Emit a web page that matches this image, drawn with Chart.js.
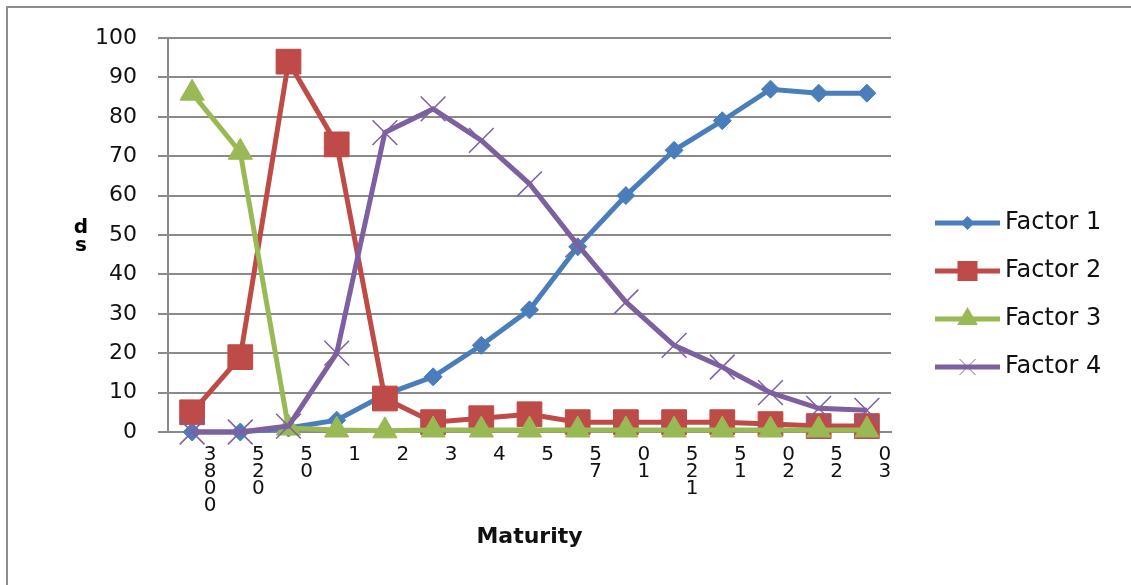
<!DOCTYPE html>
<html>
<head>
<meta charset="utf-8">
<script src="https://cdn.jsdelivr.net/npm/chart.js@4"></script>
<style>
html,body{margin:0;padding:0;background:#fff;overflow:hidden;}
canvas{display:block;}
</style>
</head>
<body>
<canvas id="c" width="1131" height="585"></canvas>
<script>
// ---- data ----
const categories = [
  ['3','8','0','0'], ['5','2','0'], ['5','0'], '1', '2', '3', '4', '5',
  ['5','7'], ['0','1'], ['5','2','1'], ['5','1'], ['0','2'], ['5','2'], ['0','3']
];
const seriesNames = ['Factor 1', 'Factor 2', 'Factor 3', 'Factor 4'];
const factor1 = [0, 0, 1, 3, 9.5, 14, 22, 31, 47, 60, 71.5, 79, 87, 86, 86];
const factor2 = [5, 19, 94, 73, 8.5, 2.5, 3.5, 4.5, 2.5, 2.5, 2.5, 2.5, 2, 1.5, 1.5];
const factor3 = [86, 71, 1, 0.5, 0.3, 0.5, 0.5, 0.5, 0.5, 0.5, 0.5, 0.5, 0.5, 0.5, 0.5];
const factor4 = [0, 0, 1.5, 20, 76, 82, 74, 63, 47.5, 33, 22, 16.5, 10, 6, 5.5];
const yTicks = [0, 10, 20, 30, 40, 50, 60, 70, 80, 90, 100];
const xTitle = 'Maturity';
const yTitle = ['d', 's'];

// ---- styles ----
const colors = ['#4A7EBB', '#BE4B48', '#98B954', '#7D60A0'];
const styles = ['rectRot', 'rect', 'triangle', 'crossRot'];
const radii = [9, 17.5, 14, 17.5];
const FONT = 'DejaVu Sans';
const legendFontSize = 24;
const legendPad = 24;
const legendBoxW = 78;

function makeIcon(color, style) {
  const c = document.createElement('canvas');
  c.width = 92; c.height = 30;
  const g = c.getContext('2d');
  g.strokeStyle = color; g.fillStyle = color;
  g.lineWidth = 5;
  g.beginPath(); g.moveTo(27, 15); g.lineTo(92, 15); g.stroke();
  const cx = 59.5, cy = 15;
  g.beginPath();
  if (style === 'rectRot') {
    const r = 7;
    g.moveTo(cx, cy - r); g.lineTo(cx + r, cy); g.lineTo(cx, cy + r); g.lineTo(cx - r, cy); g.closePath(); g.fill();
  } else if (style === 'rect') {
    g.fillRect(cx - 10, cy - 10, 20, 20);
  } else if (style === 'triangle') {
    const r = 12;
    g.moveTo(cx, cy - r); g.lineTo(cx + r * 0.866, cy + r * 0.5); g.lineTo(cx - r * 0.866, cy + r * 0.5); g.closePath(); g.fill();
  } else {
    const r = 8;
    g.lineWidth = 1;
    g.moveTo(cx - r, cy - r); g.lineTo(cx + r, cy + r); g.moveTo(cx + r, cy - r); g.lineTo(cx - r, cy + r); g.stroke();
  }
  return c;
}
const icons = colors.map((c, i) => makeIcon(c, styles[i]));

// compute legend width so the plot's right edge lands at x=891
const mctx = document.createElement('canvas').getContext('2d');
mctx.font = legendFontSize + 'px "' + FONT + '"';
const maxText = Math.max(...seriesNames.map(s => mctx.measureText(s).width));
const legendWidth = legendPad + legendBoxW + legendFontSize / 2 + maxText + 10;
const padRight = Math.max(0, 1131 - 891 - legendWidth);

const dataSeries = [factor1, factor2, factor3, factor4];
const datasets = dataSeries.map((d, i) => ({
  label: seriesNames[i],
  data: d,
  borderColor: colors[i],
  backgroundColor: colors[i],
  borderWidth: 5,
  tension: 0,
  pointStyle: styles[i],
  pointRadius: radii[i],
  pointHoverRadius: radii[i],
  pointBackgroundColor: colors[i],
  pointBorderColor: colors[i],
  pointBorderWidth: i === 3 ? 1.5 : 1,
  order: 4 - i,
  clip: false
}));

const framePlugin = {
  id: 'frame',
  beforeDraw(chart) {
    const ctx = chart.ctx;
    ctx.save();
    ctx.strokeStyle = '#8e8e8e';
    ctx.lineWidth = 2;
    ctx.beginPath();
    ctx.moveTo(7, 600); ctx.lineTo(7, 7); ctx.lineTo(1140, 7);
    ctx.stroke();
    ctx.restore();
  }
};

const yTitlePlugin = {
  id: 'yTitleStack',
  afterDraw(chart) {
    const ctx = chart.ctx;
    ctx.save();
    ctx.font = 'bold 20px "' + FONT + '"';
    ctx.fillStyle = '#000';
    ctx.textAlign = 'center';
    ctx.textBaseline = 'alphabetic';
    ctx.fillText(yTitle[0], 81, 233);
    ctx.fillText(yTitle[1], 81, 251);
    ctx.restore();
  }
};

new Chart(document.getElementById('c'), {
  type: 'line',
  data: { labels: categories, datasets },
  plugins: [framePlugin, yTitlePlugin],
  options: {
    responsive: false,
    animation: false,
    events: [],
    layout: { padding: { top: 38, left: 0, bottom: 0, right: padRight } },
    plugins: {
      tooltip: { enabled: false },
      legend: {
        position: 'right',
        align: 'start',
        title: { display: true, text: '', font: { size: 10, lineHeight: 1 }, padding: { top: 139, bottom: 0 } },
        labels: {
          usePointStyle: true,
          pointStyleWidth: legendBoxW,
          padding: legendPad,
          color: '#111',
          font: { family: FONT, size: legendFontSize },
          generateLabels(chart) {
            const items = Chart.defaults.plugins.legend.labels.generateLabels(chart);
            items.sort((a, b) => a.datasetIndex - b.datasetIndex);
            items.forEach(it => { it.pointStyle = icons[it.datasetIndex]; });
            return items;
          }
        }
      }
    },
    scales: {
      x: {
        type: 'category',
        offset: true,
        grid: { display: false, drawTicks: false },
        border: { display: true, color: '#8a8a8a', width: 2 },
        ticks: {
          autoSkip: false,
          maxRotation: 0,
          minRotation: 0,
          padding: 14,
          labelOffset: 18,
          color: '#111',
          font: { family: FONT, size: 20, lineHeight: 0.85 }
        },
        title: {
          display: true,
          text: xTitle,
          color: '#111',
          font: { family: FONT, size: 22, weight: 'bold', lineHeight: 1.2 },
          padding: { top: 0, bottom: 35 }
        },
        afterFit(s) { s.height = 153; }
      },
      y: {
        min: 0,
        max: 100,
        afterBuildTicks(s) { s.ticks = yTicks.map(v => ({ value: v })); },
        grid: { color: '#8a8a8a', lineWidth: 2, tickLength: 10, drawTicks: true },
        border: { display: true, color: '#8a8a8a', width: 2 },
        ticks: {
          padding: 21,
          color: '#111',
          font: { family: FONT, size: 22 }
        },
        afterFit(s) { s.width = 168; }
      }
    }
  }
});
</script>
</body>
</html>
